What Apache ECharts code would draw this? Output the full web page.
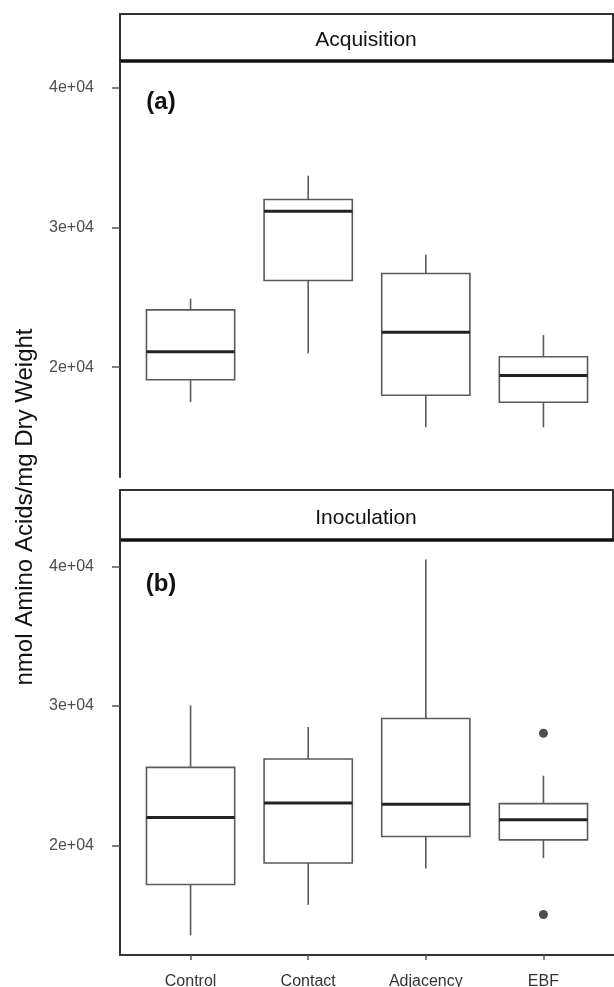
<!DOCTYPE html>
<html>
<head>
<meta charset="utf-8">
<script src="https://cdn.jsdelivr.net/npm/echarts@6/dist/echarts.min.js"></script>
<style>
  html, body { margin: 0; padding: 0; background: #fff; }
  #chart { width: 614px; height: 987px; }
</style>
</head>
<body>
<div id="chart"></div>
<script>
// categories on the x axis (shared by both panels)
var categories = ["Control", "Contact", "Adjacency", "EBF"];

// y axis ticks
var yTickValues = [20000, 30000, 40000];
var yTickLabels = ["2e+04", "3e+04", "4e+04"];

// (a) Acquisition: whisker low, Q1, median, Q3, whisker high
var acqLow = [17500, 21000, 15700, 15700];
var acqQ1 = [19100, 26200, 18000, 17500];
var acqMedian = [21100, 31150, 22500, 19400];
var acqQ3 = [24100, 32000, 26700, 20750];
var acqHigh = [24900, 33700, 28050, 22300];

// (b) Inoculation
var inoLow = [13550, 15750, 18350, 19100];
var inoQ1 = [17200, 18750, 20650, 20400];
var inoMedian = [22000, 23050, 22950, 21850];
var inoQ3 = [25600, 26200, 29100, 23000];
var inoHigh = [30050, 28500, 40500, 25000];
var inoOutlierCat = ["EBF", "EBF"];
var inoOutliers = [28050, 15050];

var FONT = "Liberation Sans, Arial, sans-serif";

function boxRows(low, q1, med, q3, high) {
  return categories.map(function (c, i) {
    return [i + 1, low[i], q1[i], med[i], q3[i], high[i]];
  });
}

// ggplot-like box: no whisker caps, thick median
function renderBox(params, api) {
  var x = api.value(0);
  var halfW = api.size([0.75, 0])[0] / 2;
  var pLow = api.coord([x, api.value(1)]);
  var pQ1 = api.coord([x, api.value(2)]);
  var pMed = api.coord([x, api.value(3)]);
  var pQ3 = api.coord([x, api.value(4)]);
  var pHigh = api.coord([x, api.value(5)]);
  var thin = { stroke: "#5a5a5a", lineWidth: 1.6, fill: null };
  return {
    type: "group",
    children: [
      { type: "line", shape: { x1: pQ3[0], y1: pQ3[1], x2: pHigh[0], y2: pHigh[1] }, style: thin },
      { type: "line", shape: { x1: pLow[0], y1: pLow[1], x2: pQ1[0], y2: pQ1[1] }, style: thin },
      {
        type: "rect",
        shape: { x: pQ3[0] - halfW, y: pQ3[1], width: halfW * 2, height: pQ1[1] - pQ3[1] },
        style: { stroke: "#5a5a5a", lineWidth: 1.6, fill: "#fff" }
      },
      {
        type: "line",
        shape: { x1: pMed[0] - halfW, y1: pMed[1], x2: pMed[0] + halfW, y2: pMed[1] },
        style: { stroke: "#222", lineWidth: 3 }
      }
    ]
  };
}

function yAxisFor(gridIndex) {
  return {
    type: "value",
    gridIndex: gridIndex,
    min: 12150,
    max: 41900,
    splitLine: { show: false },
    axisLine: { show: true, lineStyle: { color: "#333", width: 2 } },
    axisTick: { show: true, customValues: yTickValues, length: 8, lineStyle: { color: "#555", width: 1.5 } },
    axisLabel: {
      customValues: yTickValues,
      margin: 26,
      color: "#4d4d4d",
      fontSize: 16,
      fontFamily: FONT,
      formatter: function (v) { return yTickLabels[yTickValues.indexOf(v)]; }
    }
  };
}

var catIndex = categories.map(function (c, i) { return i + 1; });

var chart = echarts.init(document.getElementById("chart"));
chart.setOption({
  animation: false,
  backgroundColor: "#fff",
  grid: [
    { left: 120, top: 61, width: 494, height: 416, outerBoundsMode: "none" },
    { left: 120, top: 540, width: 494, height: 415, outerBoundsMode: "none" }
  ],
  xAxis: [
    { type: "value", gridIndex: 0, min: 0.4, max: 4.6, show: false },
    {
      type: "value",
      gridIndex: 1,
      min: 0.4,
      max: 4.6,
      splitLine: { show: false },
      axisLine: { show: true, lineStyle: { color: "#333", width: 2 } },
      axisTick: { show: true, customValues: catIndex, length: 5, lineStyle: { color: "#555", width: 1.5 } },
      axisLabel: {
        customValues: catIndex,
        margin: 19,
        color: "#333",
        fontSize: 16,
        fontFamily: FONT,
        formatter: function (v) { return categories[v - 1]; }
      }
    }
  ],
  yAxis: [yAxisFor(0), yAxisFor(1)],
  graphic: [
    // facet strips
    { type: "rect", shape: { x: 120, y: 14, width: 493, height: 47 }, style: { fill: "#fff", stroke: "#333", lineWidth: 2 } },
    { type: "line", shape: { x1: 119, y1: 61, x2: 614, y2: 61 }, style: { stroke: "#111", lineWidth: 3.5 } },
    { type: "text", x: 366, y: 40, style: { text: "Acquisition", font: "21px " + FONT, fill: "#111", align: "center", verticalAlign: "middle" } },
    { type: "rect", shape: { x: 120, y: 490, width: 493, height: 50 }, style: { fill: "#fff", stroke: "#333", lineWidth: 2 } },
    { type: "line", shape: { x1: 119, y1: 540, x2: 614, y2: 540 }, style: { stroke: "#111", lineWidth: 3.5 } },
    { type: "text", x: 366, y: 518, style: { text: "Inoculation", font: "21px " + FONT, fill: "#111", align: "center", verticalAlign: "middle" } },
    // panel tags
    { type: "text", x: 161, y: 102, style: { text: "(a)", font: "bold 24px " + FONT, fill: "#111", align: "center", verticalAlign: "middle" } },
    { type: "text", x: 161, y: 584, style: { text: "(b)", font: "bold 24px " + FONT, fill: "#111", align: "center", verticalAlign: "middle" } },
    // shared y axis title
    {
      type: "text", x: 25, y: 507, rotation: Math.PI / 2,
      style: { text: "nmol Amino Acids/mg Dry Weight", font: "24px " + FONT, fill: "#111", align: "center", verticalAlign: "middle" }
    }
  ],
  series: [
    {
      type: "custom",
      xAxisIndex: 0,
      yAxisIndex: 0,
      renderItem: renderBox,
      encode: { x: 0, y: [1, 2, 3, 4, 5] },
      data: boxRows(acqLow, acqQ1, acqMedian, acqQ3, acqHigh)
    },
    {
      type: "custom",
      xAxisIndex: 1,
      yAxisIndex: 1,
      renderItem: renderBox,
      encode: { x: 0, y: [1, 2, 3, 4, 5] },
      data: boxRows(inoLow, inoQ1, inoMedian, inoQ3, inoHigh)
    },
    {
      type: "scatter",
      xAxisIndex: 1,
      yAxisIndex: 1,
      symbol: "circle",
      symbolSize: 9,
      itemStyle: { color: "#222" },
      data: inoOutliers.map(function (v, i) {
        return [categories.indexOf(inoOutlierCat[i]) + 1, v];
      })
    }
  ]
});
</script>
</body>
</html>
